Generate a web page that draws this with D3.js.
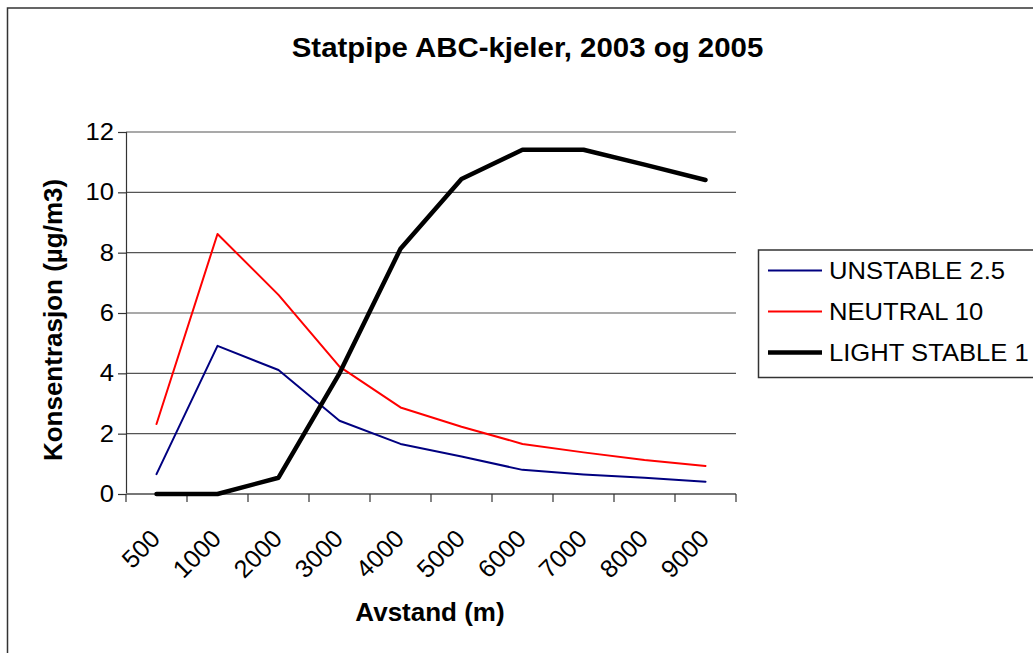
<!DOCTYPE html>
<html>
<head>
<meta charset="utf-8">
<script src="https://cdn.jsdelivr.net/npm/d3@7"></script>
<style>
  html, body { margin: 0; padding: 0; background: #fff; }
  svg { display: block; font-family: "Liberation Sans", Arial, sans-serif; }
</style>
</head>
<body>
<svg id="chart" width="1033" height="653"></svg>
<script>
// Distances (m) along the x axis
const categories = ["500", "1000", "2000", "3000", "4000", "5000", "6000", "7000", "8000", "9000"];

// Concentration (µg/m3) per stability class
const unstable    = [0.66, 4.91, 4.11, 2.43, 1.66, 1.24, 0.80, 0.65, 0.54, 0.41];
const neutral     = [2.32, 8.62, 6.60, 4.22, 2.87, 2.23, 1.66, 1.38, 1.13, 0.93];
const lightStable = [0.00, 0.00, 0.54, 4.00, 8.13, 10.44, 11.41, 11.41, 10.92, 10.41];

const seriesNames = ["UNSTABLE 2.5", "NEUTRAL 10", "LIGHT STABLE 1"];
const yTicks = [0, 2, 4, 6, 8, 10, 12];

const series = [
  { name: seriesNames[0], values: unstable,    color: "#000080", width: 2 },
  { name: seriesNames[1], values: neutral,     color: "#ff0000", width: 2 },
  { name: seriesNames[2], values: lightStable, color: "#000000", width: 4.5 }
];

const svg = d3.select("#chart");
const plot = { left: 126, right: 736, top: 132, bottom: 494 };
const sx = 1.09; // horizontal stretch of the rendered lettering

// Outer chart frame
svg.append("rect")
  .attr("x", 7.5).attr("y", 8)
  .attr("width", 1040).attr("height", 660)
  .attr("fill", "#fff").attr("stroke", "#333").attr("stroke-width", 1.5);

const x = d3.scaleBand().domain(categories).range([plot.left, plot.right]).paddingInner(0).paddingOuter(0);
const y = d3.scaleLinear().domain([0, 12]).range([plot.bottom, plot.top]);
const cx = c => x(c) + x.bandwidth() / 2;

// Horizontal gridlines
svg.append("g")
  .selectAll("line")
  .data(yTicks.filter(t => t > 0))
  .join("line")
  .attr("x1", plot.left).attr("x2", plot.right)
  .attr("y1", d => y(d)).attr("y2", d => y(d))
  .attr("stroke", "#555").attr("stroke-width", 1.2);

// Y axis
const yAxis = svg.append("g")
  .attr("transform", `translate(${plot.left},0)`)
  .call(d3.axisLeft(y).tickValues(yTicks).tickSize(8).tickPadding(4).tickFormat(d3.format("d")));
yAxis.select(".domain").attr("stroke", "#333").attr("stroke-width", 1.2);
yAxis.selectAll(".tick line").attr("stroke", "#333").attr("stroke-width", 1.2);
yAxis.selectAll(".tick text")
  .attr("font-size", 23.5).attr("fill", "#000")
  .attr("font-family", "Liberation Sans, Arial, sans-serif")
  .each(function() {
    const t = d3.select(this);
    const px = +t.attr("x");
    t.attr("x", 0).attr("transform", `translate(${px},0) scale(${sx},1)`);
  });

// X axis: line plus tick marks on band boundaries
const xAxis = svg.append("g").attr("transform", `translate(0,${plot.bottom})`);
xAxis.append("line")
  .attr("x1", plot.left).attr("x2", plot.right)
  .attr("stroke", "#777").attr("stroke-width", 1.8);
const boundaries = categories.map(c => x(c)).concat([x(categories[categories.length - 1]) + x.bandwidth()]);
xAxis.selectAll("line.tk")
  .data(boundaries)
  .join("line").attr("class", "tk")
  .attr("x1", d => d).attr("x2", d => d)
  .attr("y1", 0).attr("y2", 8)
  .attr("stroke", "#333").attr("stroke-width", 1.2);
xAxis.selectAll("text")
  .data(categories)
  .join("text")
  .attr("transform", d => `translate(${cx(d) - 1},${40}) rotate(-45)`)
  .attr("text-anchor", "end")
  .attr("dy", "0.35em")
  .attr("font-size", 25)
  .text(d => d);

// Series lines
const line = d3.line().x((d, i) => cx(categories[i])).y(d => y(d));
svg.append("g")
  .selectAll("path")
  .data(series)
  .join("path")
  .attr("d", d => line(d.values))
  .attr("fill", "none")
  .attr("stroke", d => d.color)
  .attr("stroke-width", d => d.width)
  .attr("stroke-linejoin", "round")
  .attr("stroke-linecap", "round");

// Title
svg.append("text")
  .attr("transform", `translate(527.5,57) scale(${sx},1)`)
  .attr("text-anchor", "middle")
  .attr("font-size", 27).attr("font-weight", "bold")
  .text("Statpipe ABC-kjeler, 2003 og 2005");

// Axis titles
svg.append("text")
  .attr("transform", `translate(430,621)`)
  .attr("text-anchor", "middle")
  .attr("font-size", 26).attr("font-weight", "bold")
  .text("Avstand (m)");

svg.append("text")
  .attr("transform", `translate(61.5,320) rotate(-90)`)
  .attr("text-anchor", "middle")
  .attr("font-size", 26).attr("font-weight", "bold")
  .text("Konsentrasjon (µg/m3)");

// Legend
const legend = svg.append("g");
legend.append("rect")
  .attr("x", 758.5).attr("y", 250)
  .attr("width", 300).attr("height", 127.5)
  .attr("fill", "#fff").attr("stroke", "#333").attr("stroke-width", 1.5);
const rows = legend.selectAll("g.row")
  .data(series)
  .join("g").attr("class", "row")
  .attr("transform", (d, i) => `translate(0,${270.5 + i * 41})`);
rows.append("line")
  .attr("x1", 768).attr("x2", 822)
  .attr("stroke", d => d.color)
  .attr("stroke-width", d => d.width);
rows.append("text")
  .attr("transform", `translate(829,0) scale(${sx},1)`)
  .attr("dy", "0.36em")
  .attr("font-size", 23.5)
  .text(d => d.name);
</script>
</body>
</html>
